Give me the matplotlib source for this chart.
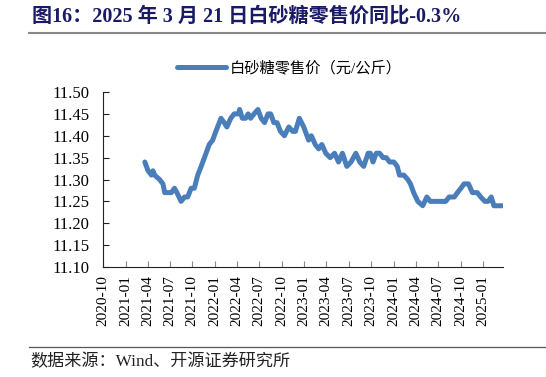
import matplotlib
matplotlib.use("Agg")
import matplotlib.pyplot as plt
import matplotlib.dates as mdates
import numpy as np
import pandas as pd

plt.rcParams['font.family'] = ['Liberation Serif', 'Noto Sans CJK SC']

# weekly-ish retail price of white sugar (yuan/kg)
dates = [
    "2021-03-21", "2021-04-03", "2021-04-17", "2021-04-23", "2021-04-30",
    "2021-05-20", "2021-06-03", "2021-06-10", "2021-06-23", "2021-07-07",
    "2021-07-20", "2021-07-30", "2021-08-16", "2021-08-30", "2021-09-12",
    "2021-09-26", "2021-10-09", "2021-10-23", "2021-11-06", "2021-11-26",
    "2021-12-09", "2021-12-23", "2022-01-05", "2022-01-26", "2022-02-08",
    "2022-02-19", "2022-03-07", "2022-03-21", "2022-04-07", "2022-04-12",
    "2022-04-23", "2022-05-07", "2022-05-17", "2022-05-27", "2022-06-10",
    "2022-06-26", "2022-07-09", "2022-07-23", "2022-08-06", "2022-08-17",
    "2022-08-30", "2022-09-12", "2022-09-26", "2022-10-12", "2022-10-30",
    "2022-11-15", "2022-11-26", "2022-12-12", "2022-12-30", "2023-01-19",
    "2023-01-30", "2023-02-15", "2023-03-01", "2023-03-14", "2023-03-30",
    "2023-04-17", "2023-05-05", "2023-05-21", "2023-06-06", "2023-06-24",
    "2023-07-11", "2023-07-31", "2023-08-16", "2023-09-01", "2023-09-19",
    "2023-09-28", "2023-10-09", "2023-10-22", "2023-11-05", "2023-11-19",
    "2023-12-02", "2023-12-16", "2024-01-02", "2024-01-16", "2024-01-25",
    "2024-02-12", "2024-02-28", "2024-03-10", "2024-03-23", "2024-04-09",
    "2024-04-29", "2024-05-16", "2024-05-30", "2024-06-15", "2024-08-01",
    "2024-08-15", "2024-09-05", "2024-09-18", "2024-10-02", "2024-10-15",
    "2024-11-02", "2024-11-18", "2024-12-08", "2024-12-22", "2025-01-08",
    "2025-01-21", "2025-02-03", "2025-02-14", "2025-03-06", "2025-03-21",
]
price = [
    11.34, 11.32, 11.31, 11.32, 11.31,
    11.30, 11.29, 11.27, 11.27, 11.27,
    11.28, 11.27, 11.25, 11.26, 11.26,
    11.28, 11.28, 11.31, 11.33, 11.36,
    11.38, 11.39, 11.41, 11.44, 11.43,
    11.42, 11.44, 11.45, 11.45, 11.46,
    11.44, 11.44, 11.45, 11.44, 11.45,
    11.46, 11.44, 11.43, 11.45, 11.45,
    11.43, 11.43, 11.41, 11.40, 11.42,
    11.41, 11.41, 11.44, 11.42, 11.39,
    11.40, 11.38, 11.37, 11.38, 11.36,
    11.35, 11.36, 11.34, 11.36, 11.33,
    11.34, 11.36, 11.34, 11.33, 11.36,
    11.36, 11.34, 11.36, 11.36, 11.35,
    11.35, 11.34, 11.34, 11.33, 11.31,
    11.31, 11.30, 11.29, 11.27, 11.25,
    11.24, 11.26, 11.25, 11.25, 11.25,
    11.26, 11.26, 11.27, 11.28, 11.29,
    11.29, 11.27, 11.27, 11.26, 11.25,
    11.25, 11.26, 11.24, 11.24, 11.24,
]
yticks = [11.10, 11.15, 11.20, 11.25, 11.30, 11.35, 11.40, 11.45, 11.50]
xticks = pd.date_range("2020-10-01", "2025-01-01", freq="QS-JAN")

title = "图16：2025 年 3 月 21 日白砂糖零售价同比-0.3%"
series_name = "白砂糖零售价（元/公斤）"
source = "数据来源：Wind、开源证券研究所"

x = pd.to_datetime(dates)

fig = plt.figure(figsize=(5.46, 3.77), dpi=100)
ax = fig.add_axes([103/546, 1-267/377, 400/546, 175/377])
ax.plot(x, price, color='#4a7ebb', lw=3.6, solid_capstyle='round',
        solid_joinstyle='round', label=series_name)

ax.set_ylim(11.10, 11.50)
ax.set_yticks(yticks)
ax.set_yticklabels(["%.2f" % v for v in yticks])
ax.set_xlim(pd.Timestamp("2020-10-01"), x[-1] + pd.Timedelta(days=2))
ax.set_xticks(xticks)
ax.set_xticklabels([d.strftime("%Y-%m") for d in xticks], rotation=90)

for s in ['top', 'right']:
    ax.spines[s].set_visible(False)
ax.spines['left'].set_color('#222222')
ax.spines['bottom'].set_color('#222222')
ax.tick_params(axis='y', direction='in', length=4, labelsize=12, pad=10,
               color='#222222')
ax.tick_params(axis='x', direction='in', length=4, labelsize=11, pad=6,
               color='#888888')

leg = fig.legend(loc='center', bbox_to_anchor=(0.53, 1-68/377), frameon=False,
                 fontsize=11, handlelength=3.2, handletextpad=0.3)

fig.text(32/546, 1-17/377, title, fontsize=14.5, fontweight='bold',
         color='#1a1a66', va='center', ha='left')
fig.add_artist(plt.Line2D([29/546, 1], [1-33/377, 1-33/377], color='#888888', lw=1.5))
fig.add_artist(plt.Line2D([29/546, 1], [1-347/377, 1-347/377], color='#555555', lw=0.9))
fig.text(30/546, 1-362/377, source, fontsize=12.3, color='#222222',
         va='center', ha='left')

fig.savefig("out.png", dpi=100)
